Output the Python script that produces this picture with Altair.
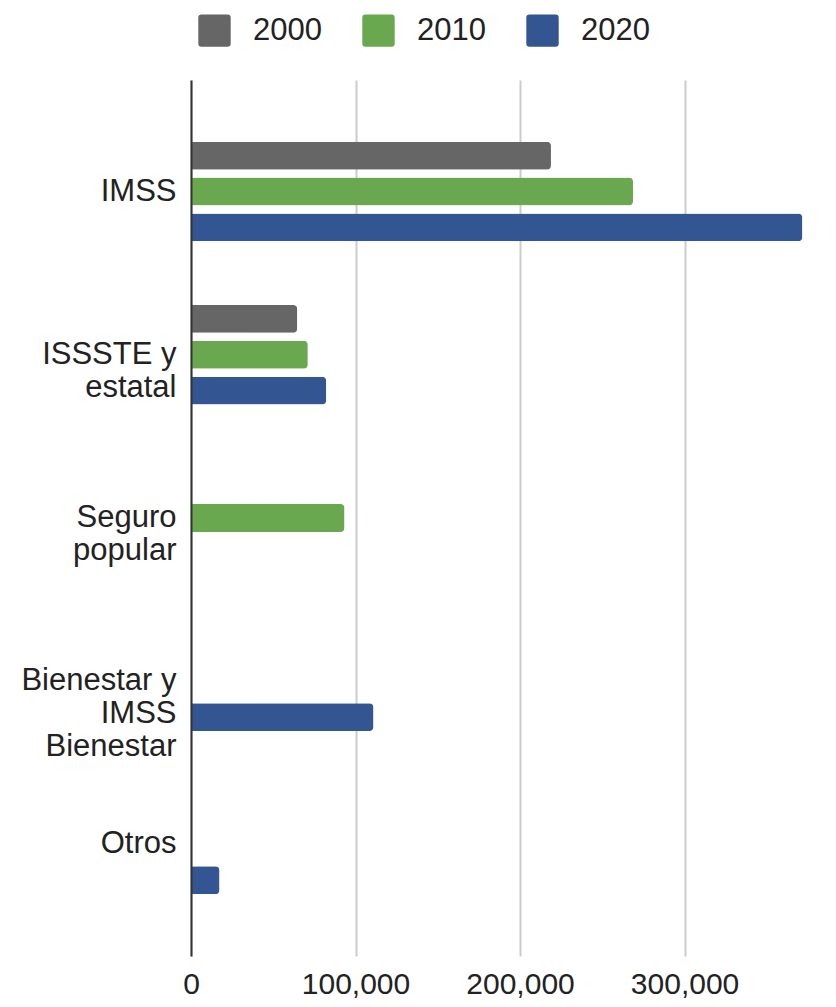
import altair as alt
import pandas as pd

categories = ["IMSS", "ISSSTE y|estatal", "Seguro|popular", "Bienestar y|IMSS|Bienestar", "Otros"]
years = ["2000", "2010", "2020"]
v2000 = [218800, 64600, None, None, None]
v2010 = [268700, 71000, 93300, None, None]
v2020 = [371600, 82200, None, 110900, 17300]
colors = ["#666666", "#6aa84f", "#335591"]
x_ticks = [0, 100000, 200000, 300000]

rows = []
for yr, vals in zip(years, [v2000, v2010, v2020]):
    for cat, v in zip(categories, vals):
        if v is not None:
            rows.append({"category": cat, "year": yr, "value": v})
df = pd.DataFrame(rows)

rounded_square = ("M -0.8 -1 L 0.8 -1 Q 1 -1 1 -0.8 L 1 0.8 Q 1 1 0.8 1 "
                  "L -0.8 1 Q -1 1 -1 0.8 L -1 -0.8 Q -1 -1 -0.8 -1 Z")

FONT = "Liberation Sans"

chart = alt.Chart(df).mark_bar(cornerRadiusEnd=4).encode(
    x=alt.X("value:Q",
            scale=alt.Scale(domain=[0, 372000], nice=False, zero=True),
            axis=alt.Axis(values=x_ticks, format=",d", title=None, domain=False,
                          ticks=False, grid=True, gridColor="#cccccc", gridWidth=2,
                          labelFontSize=30, labelPadding=13, labelColor="#222222",
                          labelFlush=False, labelFont=FONT)),
    y=alt.Y("category:N", sort=categories,
            scale=alt.Scale(paddingInner=0.341, paddingOuter=0.354),
            axis=alt.Axis(title=None, ticks=False, domain=True, domainColor="#333333",
                          domainWidth=2, labelFontSize=31, labelPadding=15,
                          labelExpr="split(datum.label, '|')", labelLineHeight=33,
                          labelColor="#222222", grid=False, zindex=1, labelFont=FONT)),
    yOffset=alt.YOffset("year:N", sort=years,
                        scale=alt.Scale(paddingInner=0.222, paddingOuter=0.111)),
    color=alt.Color("year:N", sort=years,
                    scale=alt.Scale(domain=years, range=colors),
                    legend=alt.Legend(orient="none", legendX=7, legendY=-66,
                                      direction="horizontal", title=None,
                                      symbolType=rounded_square, symbolSize=1050,
                                      symbolStrokeWidth=0, symbolOpacity=1,
                                      labelFontSize=31, labelFont=FONT,
                                      labelColor="#222222", labelOffset=22,
                                      columnPadding=40, padding=0)),
).properties(
    width=612, height=876,
    autosize=alt.AutoSizeParams(type="none"),
    padding={"left": 183, "top": 72, "right": 20, "bottom": 43},
).configure_view(stroke=None)

chart.save("out.html", embed_options={"renderer": "svg", "actions": False})
